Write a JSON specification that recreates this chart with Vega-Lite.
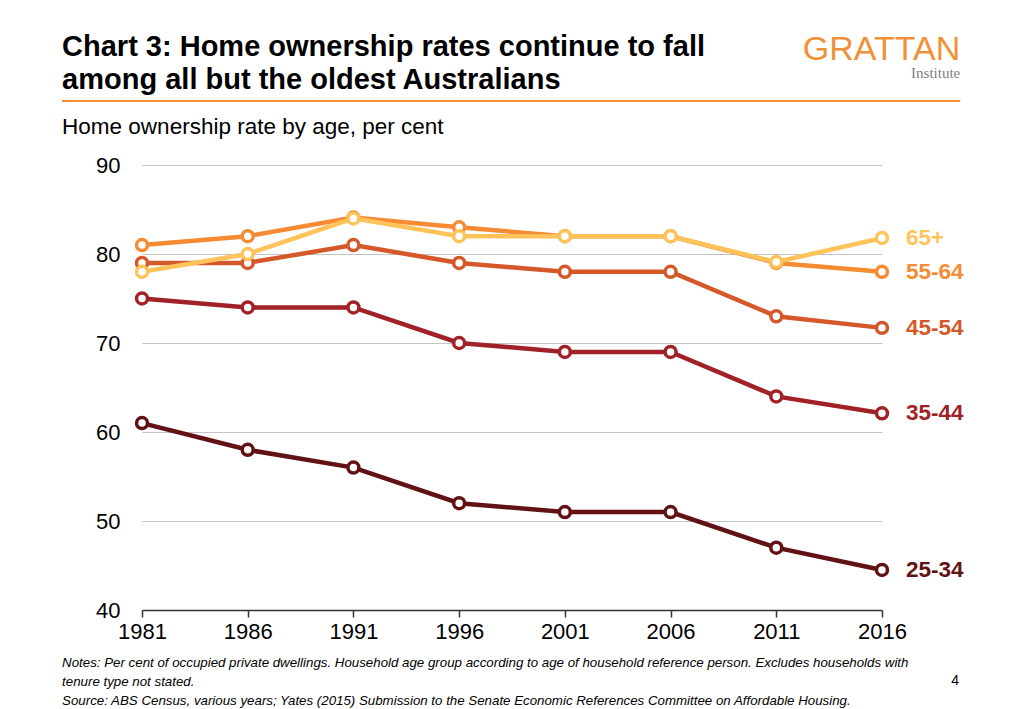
{
  "$schema": "https://vega.github.io/schema/vega-lite/v6.json",
  "autosize": {"type": "none"},
  "width": 740,
  "height": 445,
  "padding": {"left": 142, "top": 165, "right": 142, "bottom": 99},
  "background": "white",
  "config": {
    "font": "Liberation Sans",
    "view": {"stroke": null}
  },
  "data": {
    "values": [
      {"year": 1981, "age": "25-34", "rate": 61.0},
      {"year": 1986, "age": "25-34", "rate": 58.0},
      {"year": 1991, "age": "25-34", "rate": 56.0},
      {"year": 1996, "age": "25-34", "rate": 52.0},
      {"year": 2001, "age": "25-34", "rate": 51.0},
      {"year": 2006, "age": "25-34", "rate": 51.0},
      {"year": 2011, "age": "25-34", "rate": 47.0},
      {"year": 2016, "age": "25-34", "rate": 44.5},
      {"year": 1981, "age": "35-44", "rate": 75.0},
      {"year": 1986, "age": "35-44", "rate": 74.0},
      {"year": 1991, "age": "35-44", "rate": 74.0},
      {"year": 1996, "age": "35-44", "rate": 70.0},
      {"year": 2001, "age": "35-44", "rate": 69.0},
      {"year": 2006, "age": "35-44", "rate": 69.0},
      {"year": 2011, "age": "35-44", "rate": 64.0},
      {"year": 2016, "age": "35-44", "rate": 62.1},
      {"year": 1981, "age": "45-54", "rate": 79.0},
      {"year": 1986, "age": "45-54", "rate": 79.0},
      {"year": 1991, "age": "45-54", "rate": 81.0},
      {"year": 1996, "age": "45-54", "rate": 79.0},
      {"year": 2001, "age": "45-54", "rate": 78.0},
      {"year": 2006, "age": "45-54", "rate": 78.0},
      {"year": 2011, "age": "45-54", "rate": 73.0},
      {"year": 2016, "age": "45-54", "rate": 71.7},
      {"year": 1981, "age": "55-64", "rate": 81.0},
      {"year": 1986, "age": "55-64", "rate": 82.0},
      {"year": 1991, "age": "55-64", "rate": 84.1},
      {"year": 1996, "age": "55-64", "rate": 83.0},
      {"year": 2001, "age": "55-64", "rate": 82.0},
      {"year": 2006, "age": "55-64", "rate": 82.0},
      {"year": 2011, "age": "55-64", "rate": 79.0},
      {"year": 2016, "age": "55-64", "rate": 78.0},
      {"year": 1981, "age": "65+", "rate": 78.0},
      {"year": 1986, "age": "65+", "rate": 80.0},
      {"year": 1991, "age": "65+", "rate": 84.0},
      {"year": 1996, "age": "65+", "rate": 82.0},
      {"year": 2001, "age": "65+", "rate": 82.0},
      {"year": 2006, "age": "65+", "rate": 82.0},
      {"year": 2011, "age": "65+", "rate": 79.1},
      {"year": 2016, "age": "65+", "rate": 81.8}
    ]
  },
  "encoding": {
    "x": {
      "field": "year", "type": "quantitative",
      "scale": {"domain": [1981, 2016], "nice": false, "zero": false},
      "axis": {
        "title": null, "values": [1981, 1986, 1991, 1996, 2001, 2006, 2011, 2016],
        "format": "d", "grid": false, "domainColor": "#333333", "domainWidth": 1.5,
        "tickColor": "#333333", "tickWidth": 1.5, "tickSize": 7,
        "labelFontSize": 22, "labelColor": "#000000", "labelPadding": 4,
        "labelFlush": false
      }
    },
    "y": {
      "field": "rate", "type": "quantitative",
      "scale": {"domain": [40, 90], "nice": false, "zero": false},
      "axis": {
        "title": null, "values": [40, 50, 60, 70, 80, 90],
        "domain": false, "ticks": false, "gridColor": "#C4C4C4", "gridWidth": 1.2,
        "labelFontSize": 22, "labelColor": "#000000", "labelPadding": 22
      }
    }
  },
  "layer": [
    {
      "mark": {"type": "line", "strokeWidth": 4.5},
      "encoding": {
        "color": {
          "field": "age", "type": "nominal", "legend": null,
          "scale": {"domain": ["25-34", "35-44", "45-54", "55-64", "65+"], "range": ["#621214", "#A02226", "#D4582A", "#F68B33", "#FFC35A"]}
        }
      }
    },
    {
      "mark": {"type": "point", "shape": "circle", "size": 120, "fill": "white", "filled": false, "strokeWidth": 3.5, "opacity": 1},
      "encoding": {
        "stroke": {
          "field": "age", "type": "nominal", "legend": null,
          "scale": {"domain": ["25-34", "35-44", "45-54", "55-64", "65+"], "range": ["#621214", "#A02226", "#D4582A", "#F68B33", "#FFC35A"]}
        }
      }
    },
    {
      "transform": [{"filter": "datum.year == 2016"}],
      "mark": {"type": "text", "align": "left", "baseline": "middle", "dx": 24, "fontSize": 22.5, "fontWeight": "bold"},
      "encoding": {
        "text": {"field": "age"},
        "color": {
          "field": "age", "type": "nominal", "legend": null,
          "scale": {"domain": ["25-34", "35-44", "45-54", "55-64", "65+"], "range": ["#621214", "#A02226", "#D4582A", "#F68B33", "#FFC35A"]}
        }
      }
    },
    {
      "transform": [{"filter": "datum.year == 1981 && datum.age == '25-34'"}],
      "mark": {"type": "text", "text": ["Chart 3: Home ownership rates continue to fall", "among all but the oldest Australians"], "align": "left", "baseline": "alphabetic", "fontSize": 29, "fontWeight": "bold", "lineHeight": 33, "color": "#000000", "clip": false},
      "encoding": {
        "x": {"datum": 1977.22, "type": "quantitative"},
        "y": {"datum": 102.25, "type": "quantitative"}
      }
    },
    {
      "transform": [{"filter": "datum.year == 1981 && datum.age == '25-34'"}],
      "mark": {"type": "text", "text": "Home ownership rate by age, per cent", "align": "left", "baseline": "alphabetic", "fontSize": 22.5, "color": "#000000", "clip": false},
      "encoding": {
        "x": {"datum": 1977.22, "type": "quantitative"},
        "y": {"datum": 93.48, "type": "quantitative"}
      }
    },
    {
      "transform": [{"filter": "datum.year == 1981 && datum.age == '25-34'"}],
      "mark": {"type": "rule", "color": "#F68B33", "strokeWidth": 2, "clip": false},
      "encoding": {
        "x": {"datum": 1977.22, "type": "quantitative"},
        "x2": {"datum": 2019.7},
        "y": {"datum": 97.2, "type": "quantitative"}
      }
    },
    {
      "transform": [{"filter": "datum.year == 1981 && datum.age == '25-34'"}],
      "mark": {"type": "text", "text": "GRATTAN", "align": "right", "baseline": "alphabetic", "fontSize": 34, "color": "#F0913A", "font": "Liberation Sans", "clip": false},
      "encoding": {
        "x": {"datum": 2019.7, "type": "quantitative"},
        "y": {"datum": 101.85, "type": "quantitative"}
      }
    },
    {
      "transform": [{"filter": "datum.year == 1981 && datum.age == '25-34'"}],
      "mark": {"type": "text", "text": "Institute", "align": "right", "baseline": "alphabetic", "fontSize": 15, "color": "#7F7F7F", "font": "Liberation Serif", "clip": false},
      "encoding": {
        "x": {"datum": 2019.7, "type": "quantitative"},
        "y": {"datum": 99.75, "type": "quantitative"}
      }
    },
    {
      "transform": [{"filter": "datum.year == 1981 && datum.age == '25-34'"}],
      "mark": {"type": "text", "text": ["Notes: Per cent of occupied private dwellings. Household age group according to age of household reference person. Excludes households with", "tenure type not stated.", "Source: ABS Census, various years; Yates (2015) Submission to the Senate Economic References Committee on Affordable Housing."], "align": "left", "baseline": "top", "fontSize": 13.3, "fontStyle": "italic", "lineHeight": 19, "color": "#000000", "clip": false},
      "encoding": {
        "x": {"datum": 1977.22, "type": "quantitative"},
        "y": {"datum": 34.83, "type": "quantitative"}
      }
    },
    {
      "transform": [{"filter": "datum.year == 1981 && datum.age == '25-34'"}],
      "mark": {"type": "text", "text": "4", "align": "center", "baseline": "middle", "fontSize": 14, "color": "#000000", "clip": false},
      "encoding": {
        "x": {"datum": 2019.46, "type": "quantitative"},
        "y": {"datum": 32.02, "type": "quantitative"}
      }
    }
  ]
}
